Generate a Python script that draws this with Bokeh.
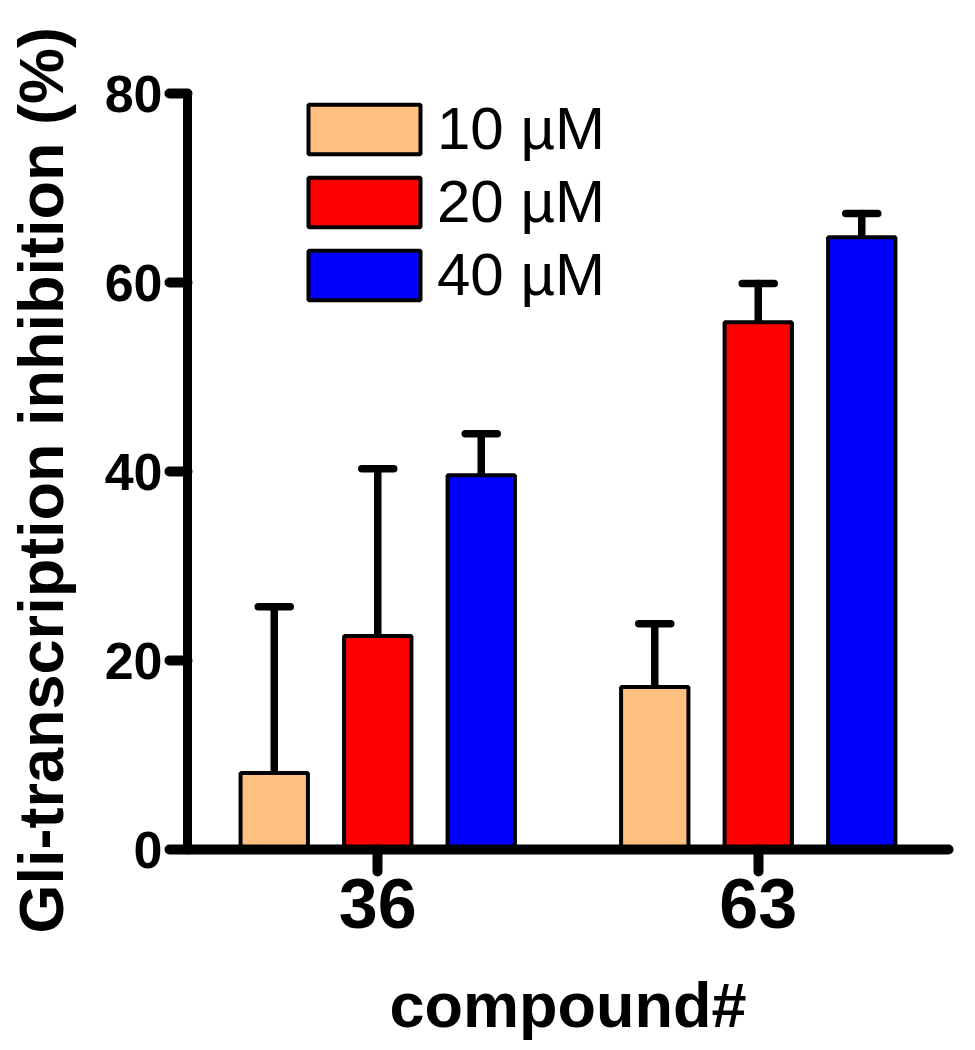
from bokeh.plotting import figure
from bokeh.models import Range1d, FactorRange, Legend, LegendItem, FixedTicker, ColumnDataSource
from bokeh.transform import dodge
from bokeh.embed import file_html
from bokeh.resources import INLINE

compounds = ["36", "63"]
conc_labels = ["10 µM", "20 µM", "40 µM"]
colors = ["#FFC080", "#FF0000", "#0000FF"]
vals_10 = [8.1, 17.2]
vals_20 = [22.6, 55.8]
vals_40 = [39.6, 64.8]
err_10 = [17.6, 6.7]
err_20 = [17.7, 4.1]
err_40 = [4.4, 2.5]
y_ticks = [0, 20, 40, 60, 80]

FONT = "Liberation Sans"

p = figure(width=959, height=1042, x_range=FactorRange(factors=compounds, range_padding=0),
           y_range=Range1d(0, 80), output_backend="svg", toolbar_location=None,
           min_border_left=187, min_border_right=11, min_border_top=93, min_border_bottom=192)
p.outline_line_color = None
p.grid.visible = False
p.background_fill_color = "white"

series = [(vals_10, err_10), (vals_20, err_20), (vals_40, err_40)]
offsets = [-0.272, 0.0, 0.272]
bar_w = 0.177
cap_half = 0.042
legend_items = []
for (vals, errs), off, col, lab in zip(series, offsets, colors, conc_labels):
    src = ColumnDataSource(dict(x=compounds, top=vals, up=[v + e for v, e in zip(vals, errs)]))
    p.segment(x0=dodge("x", off, range=p.x_range), x1=dodge("x", off, range=p.x_range),
              y0="top", y1="up", source=src, line_color="black", line_width=7.5, line_cap="round")
    p.segment(x0=dodge("x", off - cap_half, range=p.x_range), x1=dodge("x", off + cap_half, range=p.x_range),
              y0="up", y1="up", source=src, line_color="black", line_width=7.5, line_cap="round")
    r = p.vbar(x=dodge("x", off, range=p.x_range), top="top", width=bar_w, bottom=0, source=src,
               fill_color=col, line_color="black", line_width=4)
    legend_items.append(LegendItem(label=lab, renderers=[r]))

legend = Legend(items=legend_items, location=(107, 540), glyph_width=140, glyph_height=62,
                label_height=62, spacing=4, padding=0, margin=0, label_standoff=3,
                border_line_color=None, background_fill_alpha=0,
                label_text_font=FONT, label_text_font_size="60px", label_text_color="black")
p.add_layout(legend, "center")

# y axis
ya = p.yaxis[0]
ya.ticker = FixedTicker(ticks=y_ticks)
ya.minor_tick_line_color = None
ya.axis_line_width = 9
ya.axis_line_color = "black"
ya.major_tick_line_width = 10
ya.major_tick_line_cap = "round"
ya.major_tick_out = 18
ya.major_tick_in = 0
ya.major_label_standoff = 7
ya.major_label_text_font = FONT
ya.major_label_text_font_style = "bold"
ya.major_label_text_font_size = "52px"
ya.major_label_text_color = "black"
ya.axis_label = "Gli-transcription inhibition (%)" + "\u00a0"
ya.axis_label_text_font = FONT
ya.axis_label_text_font_style = "bold"
ya.axis_label_text_font_size = "63px"
ya.axis_label_text_color = "black"
ya.axis_label_standoff = 26

# x axis
xa = p.xaxis[0]
xa.axis_line_width = 10
xa.axis_line_color = "black"
xa.axis_line_cap = "round"
xa.major_tick_line_width = 10
xa.major_tick_out = 22
xa.major_tick_in = 0
xa.major_tick_line_cap = "round"
xa.minor_tick_line_color = None
xa.major_label_standoff = 7
xa.major_label_text_font = FONT
xa.major_label_text_font_style = "bold"
xa.major_label_text_font_size = "70px"
xa.major_label_text_color = "black"
xa.axis_label = "compound#"
xa.axis_label_text_font = FONT
xa.axis_label_text_font_style = "bold"
xa.axis_label_text_font_size = "63px"
xa.axis_label_text_color = "black"
xa.axis_label_standoff = 39

open("out.html", "w").write(file_html(p, INLINE))
